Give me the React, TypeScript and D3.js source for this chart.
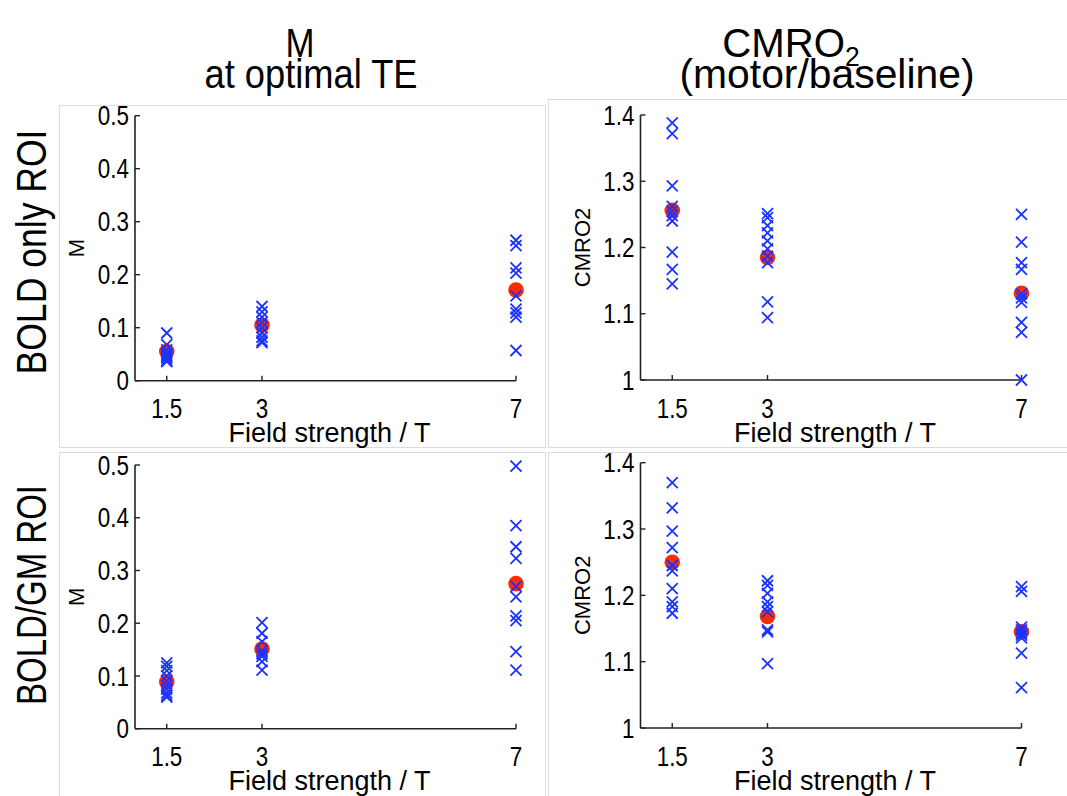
import React from "react";
import * as d3 from "d3";

// Field strengths (T) at which subjects were scanned
const fieldStrengths = [1.5, 3, 7];
const xTicks = [1.5, 3, 7];

// M at optimal TE, BOLD-only ROI
const mBoldOnly15 = [0.09, 0.068, 0.058, 0.052, 0.048, 0.045, 0.042, 0.038, 0.036];
const mBoldOnly3 = [0.14, 0.13, 0.12, 0.11, 0.1, 0.09, 0.082, 0.075, 0.072];
const mBoldOnly7 = [0.265, 0.255, 0.213, 0.203, 0.16, 0.135, 0.128, 0.12, 0.057];
const mBoldOnlyMean = [0.055, 0.105, 0.171];

// CMRO2 (motor/baseline), BOLD-only ROI
const cmroBoldOnly15 = [1.388, 1.372, 1.293, 1.262, 1.255, 1.248, 1.24, 1.193, 1.167, 1.145];
const cmroBoldOnly3 = [1.251, 1.245, 1.233, 1.222, 1.21, 1.198, 1.187, 1.177, 1.118, 1.094];
const cmroBoldOnly7 = [1.25, 1.208, 1.177, 1.167, 1.13, 1.124, 1.117, 1.087, 1.072, 1.0];
const cmroBoldOnlyMean = [1.256, 1.185, 1.131];

// M at optimal TE, BOLD/GM ROI
const mBoldGm15 = [0.125, 0.118, 0.11, 0.1, 0.09, 0.082, 0.075, 0.068, 0.063, 0.06];
const mBoldGm3 = [0.201, 0.181, 0.165, 0.148, 0.142, 0.137, 0.127, 0.111];
const mBoldGm7 = [0.498, 0.385, 0.345, 0.323, 0.27, 0.25, 0.214, 0.205, 0.146, 0.111];
const mBoldGmMean = [0.089, 0.151, 0.275];

// CMRO2 (motor/baseline), BOLD/GM ROI
const cmroBoldGm15 = [1.37, 1.332, 1.297, 1.272, 1.245, 1.237, 1.21, 1.19, 1.183, 1.173];
const cmroBoldGm3 = [1.222, 1.215, 1.203, 1.19, 1.183, 1.175, 1.148, 1.145, 1.097];
const cmroBoldGm7 = [1.213, 1.206, 1.152, 1.148, 1.143, 1.14, 1.136, 1.113, 1.061];
const cmroBoldGmMean = [1.25, 1.168, 1.145];

const mTicks = [0, 0.1, 0.2, 0.3, 0.4, 0.5];
const cmroTicks = [1, 1.1, 1.2, 1.3, 1.4];

const FONT = "'Liberation Sans', Arial, Helvetica, sans-serif";
const AXIS = "#222";
const BLUE = "#1a33ff";
const RED = "#ff2a00";

// Text drawn with an optional horizontal squeeze (narrow Helvetica look)
function SText(props: {
  x: number;
  y: number;
  size: number;
  sx?: number;
  rotate?: number;
  anchor?: string;
  dy?: string;
  length?: number;
  children: React.ReactNode;
}) {
  const { x, y, size, sx = 1, rotate = 0, anchor = "start", dy, length, children } = props;
  return (
    <text
      transform={`translate(${x},${y}) rotate(${rotate}) scale(${sx},1)`}
      textAnchor={anchor}
      dy={dy}
      fontSize={size}
      fontFamily={FONT}
      fill="#000"
      textLength={length}
      lengthAdjust={length ? "spacingAndGlyphs" : undefined}
    >
      {children}
    </text>
  );
}

type PanelProps = {
  subjects: number[][];
  means: number[];
  yDomain: [number, number];
  yTicks: number[];
  yFormat: (v: number) => string;
  yLabel: string;
  xRange: [number, number];
  yRange: [number, number];
  yLabelX: number;
  tickLabelY: number;
  titleY: number;
};

function Panel(p: PanelProps) {
  const x = d3.scaleLinear().domain([1, 7]).range(p.xRange);
  const y = d3.scaleLinear().domain(p.yDomain).range(p.yRange);
  const x0 = p.xRange[0];
  const y0 = p.yRange[0];
  const cs = 5.5;
  const midY = (p.yRange[0] + p.yRange[1]) / 2;
  return (
    <g>
      {/* axes */}
      <line x1={x0} x2={x0} y1={y(p.yDomain[1])} y2={y0} stroke={AXIS} strokeWidth={1.6} />
      <line x1={x0} x2={x(7)} y1={y0} y2={y0} stroke={AXIS} strokeWidth={1.6} />
      {p.yTicks.map((t) => (
        <g key={"y" + t}>
          <line x1={x0} x2={x0 + 5} y1={y(t)} y2={y(t)} stroke={AXIS} strokeWidth={1.4} />
          <SText x={x0 - 6} y={y(t)} dy="0.36em" anchor="end" size={27} sx={0.83}>
            {p.yFormat(t)}
          </SText>
        </g>
      ))}
      {xTicks.map((t) => (
        <g key={"x" + t}>
          <line x1={x(t)} x2={x(t)} y1={y0} y2={y0 - 5} stroke={AXIS} strokeWidth={1.4} />
          <SText x={x(t)} y={p.tickLabelY} anchor="middle" size={27} sx={0.83}>
            {String(t)}
          </SText>
        </g>
      ))}
      <SText x={(x0 + x(7)) / 2 + 4} y={p.titleY} anchor="middle" size={27}>
        Field strength / T
      </SText>
      <SText x={p.yLabelX} y={midY} rotate={-90} anchor="middle" size={22}>
        {p.yLabel}
      </SText>
      {/* group means */}
      {p.means.map((m, i) => (
        <circle key={"m" + i} cx={x(fieldStrengths[i])} cy={y(m)} r={7.8} fill={RED} />
      ))}
      {/* individual subjects */}
      {p.subjects.map((vals, i) =>
        vals.map((v, j) => {
          const cx = x(fieldStrengths[i]);
          const cy = y(v);
          return (
            <path
              key={`s${i}-${j}`}
              d={`M${cx - cs},${cy - cs}L${cx + cs},${cy + cs}M${cx - cs},${cy + cs}L${cx + cs},${cy - cs}`}
              stroke={BLUE}
              strokeWidth={1.8}
              fill="none"
            />
          );
        })
      )}
    </g>
  );
}

const fmtM = (v: number) => (v === 0 ? "0" : d3.format(".1f")(v));
const fmtC = (v: number) => (v === 1 ? "1" : d3.format(".1f")(v));

export default function App() {
  const frame = "#dcdcdc";
  return (
    <svg
      width={1067}
      height={796}
      style={{ position: "absolute", left: 0, top: 0, background: "#fff" }}
    >
      {/* figure frames */}
      <rect x={59.5} y={105.5} width={486} height={342} fill="none" stroke={frame} />
      <rect x={59.5} y={452.5} width={486} height={350} fill="none" stroke={frame} />
      <rect x={548.5} y={99.5} width={530} height={348} fill="none" stroke={frame} />
      <rect x={548.5} y={452.5} width={530} height={350} fill="none" stroke={frame} />

      {/* column titles */}
      <SText x={300} y={57} anchor="middle" size={41} sx={0.85}>M</SText>
      <SText x={311} y={88} anchor="middle" size={41} length={213}>at optimal TE</SText>
      <SText x={791} y={57} anchor="middle" size={41} sx={0.98}>
        CMRO<tspan fontSize={27} dy={9}>2</tspan>
      </SText>
      <SText x={827} y={88} anchor="middle" size={41} length={295}>(motor/baseline)</SText>

      {/* row titles */}
      <SText x={46} y={252} rotate={-90} anchor="middle" size={42} length={245}>
        BOLD only ROI
      </SText>
      <SText x={46} y={595} rotate={-90} anchor="middle" size={42} length={220}>
        BOLD/GM ROI
      </SText>

      <Panel
        subjects={[mBoldOnly15, mBoldOnly3, mBoldOnly7]}
        means={mBoldOnlyMean}
        yDomain={[0, 0.5]}
        yTicks={mTicks}
        yFormat={fmtM}
        yLabel="M"
        xRange={[135, 516]}
        yRange={[380.7, 115.7]}
        yLabelX={84}
        tickLabelY={418}
        titleY={442}
      />
      <Panel
        subjects={[cmroBoldOnly15, cmroBoldOnly3, cmroBoldOnly7]}
        means={cmroBoldOnlyMean}
        yDomain={[1, 1.4]}
        yTicks={cmroTicks}
        yFormat={fmtC}
        yLabel="CMRO2"
        xRange={[640.5, 1021.5]}
        yRange={[380, 115]}
        yLabelX={590}
        tickLabelY={418}
        titleY={442}
      />
      <Panel
        subjects={[mBoldGm15, mBoldGm3, mBoldGm7]}
        means={mBoldGmMean}
        yDomain={[0, 0.5]}
        yTicks={mTicks}
        yFormat={fmtM}
        yLabel="M"
        xRange={[135, 516]}
        yRange={[728.7, 465]}
        yLabelX={84}
        tickLabelY={766}
        titleY={790}
      />
      <Panel
        subjects={[cmroBoldGm15, cmroBoldGm3, cmroBoldGm7]}
        means={cmroBoldGmMean}
        yDomain={[1, 1.4]}
        yTicks={cmroTicks}
        yFormat={fmtC}
        yLabel="CMRO2"
        xRange={[640.5, 1021.5]}
        yRange={[728, 462.7]}
        yLabelX={590}
        tickLabelY={766}
        titleY={790}
      />
    </svg>
  );
}
